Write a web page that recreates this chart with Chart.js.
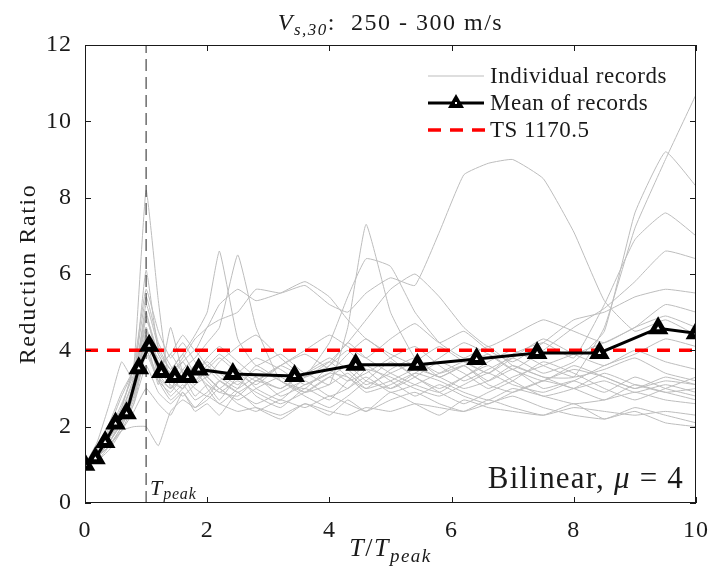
<!DOCTYPE html>
<html>
<head>
<meta charset="utf-8">
<script src="https://cdn.jsdelivr.net/npm/chart.js@4/dist/chart.umd.min.js"></script>
<style>body{margin:0;background:#fff}</style>
</head>
<body>
<canvas id="chart" width="713" height="577"></canvas>
<script>
// x positions (T/Tpeak) at which the individual records are sampled
const recordX = [0, 0.2, 0.4, 0.6, 0.8, 1.0, 1.2, 1.4, 1.6, 1.8, 2.0, 2.2, 2.5, 2.8, 3.2, 3.6,
                 4.0, 4.3, 4.6, 5.0, 5.4, 5.8, 6.2, 6.6, 7.0, 7.5, 8.0, 8.5, 9.0, 9.5, 10];

// reduction ratio of each record
const rec01 = [1.0,1.4,1.9,2.5,3.6,8.2,5.3,3.0,3.5,3.2,3.6,3.3,3.0,3.3,2.8,3.1,3.4,3.3,2.9,3.1,3.4,3.2,2.9,2.7,3.0,2.8,2.6,2.7,2.9,2.7,2.6];
const rec02 = [1.0,1.3,1.7,2.3,3.1,5.0,3.6,3.9,4.4,4.0,4.6,4.8,5.0,5.6,5.5,5.7,5.2,5.0,5.5,5.9,5.7,7.1,8.6,8.9,9.0,8.5,7.1,5.3,4.5,4.8,4.4];
const rec03 = [1.0,1.2,1.6,2.1,3.2,6.1,4.0,3.5,3.9,4.4,5.0,6.6,4.3,3.6,3.9,3.4,3.7,3.3,3.0,3.5,3.8,3.3,3.6,3.1,2.9,3.2,3.5,3.3,3.0,3.2,3.1];
const rec04 = [1.0,1.3,2.0,2.8,3.5,4.6,3.4,3.0,3.5,3.8,4.2,4.6,6.5,4.6,3.2,3.0,3.6,4.2,3.8,3.4,3.1,2.9,3.3,3.6,3.2,2.8,3.0,3.4,3.1,2.9,3.0];
const rec05 = [1.0,1.2,1.5,2.0,2.8,4.2,3.8,3.3,3.0,3.4,3.1,2.9,2.8,3.2,3.0,3.4,3.1,4.6,7.3,5.0,3.8,3.4,3.6,3.2,3.5,3.0,3.2,2.9,3.3,3.0,2.8];
const rec06 = [1.0,1.1,1.4,1.9,2.6,3.9,3.2,2.9,3.3,3.0,2.8,3.2,3.5,3.0,2.7,3.3,4.2,5.4,6.4,6.2,5.0,4.2,3.8,4.1,3.6,3.3,3.0,3.2,2.9,3.1,2.9];
const rec07 = [1.0,1.2,1.6,2.2,2.9,4.4,3.5,3.1,2.8,3.1,3.3,3.0,2.7,3.0,3.3,2.9,3.1,3.4,3.0,3.2,3.5,3.3,3.0,3.2,3.6,3.3,3.3,4.6,7.2,9.0,10.7];
const rec08 = [1.0,1.3,1.8,2.4,3.3,4.9,3.9,3.4,3.7,3.2,3.5,3.8,3.4,3.1,3.6,3.9,3.5,3.2,3.4,3.8,4.1,3.6,3.2,3.5,3.8,3.4,3.7,4.5,7.6,9.2,8.3];
const rec09 = [1.0,1.1,1.5,2.0,2.7,4.0,3.3,2.8,3.1,2.7,2.9,3.2,2.9,2.6,2.9,3.2,2.8,3.0,3.3,2.9,3.1,3.4,3.7,3.4,3.9,4.2,3.8,5.2,6.9,7.6,7.0];
const rec10 = [1.0,1.2,1.7,2.3,3.0,4.5,3.7,3.2,3.0,3.4,3.7,3.4,3.1,3.5,3.2,2.9,3.3,3.6,3.2,3.0,3.4,3.8,4.2,3.9,3.5,4.0,4.6,5.1,5.8,6.6,6.4];
const rec11 = [1.0,1.3,1.7,2.2,2.9,4.3,3.6,3.3,3.7,4.0,3.6,3.9,3.5,3.2,3.6,4.0,4.4,4.1,3.8,4.3,4.7,4.2,4.5,4.0,3.7,4.2,4.8,5.0,5.4,5.6,5.5];
const rec12 = [1.0,1.2,1.5,1.9,2.0,2.0,1.5,2.4,2.7,2.5,2.8,2.6,2.4,2.5,2.3,2.6,2.4,2.3,2.5,2.4,2.6,2.5,2.4,2.7,2.5,2.3,2.5,2.4,2.3,2.4,2.3];
const rec13 = [1.0,1.2,1.6,2.1,2.6,3.6,2.9,2.6,2.9,2.5,2.7,3.0,2.6,2.4,2.7,2.5,2.8,2.6,2.4,2.7,2.9,2.6,2.4,2.6,2.8,2.5,2.3,2.2,2.4,2.1,2.0];
const rec14 = [1.0,1.6,2.6,3.7,3.2,4.8,3.9,3.4,3.8,4.3,4.6,5.2,5.6,5.3,5.5,5.8,5.4,4.8,4.3,3.9,3.6,3.3,3.6,3.9,3.5,3.2,3.6,3.3,3.0,3.3,3.1];
const rec15 = [1.0,1.3,1.9,2.6,3.4,5.4,4.2,3.6,3.2,3.6,3.3,3.0,3.4,3.8,3.5,3.1,3.4,3.9,4.3,3.8,3.3,3.0,3.3,3.7,4.0,3.6,3.3,3.5,3.8,3.4,3.2];
const rec16 = [1.0,1.2,1.6,2.1,2.9,4.4,3.5,3.9,3.4,3.1,3.5,3.2,2.9,3.2,3.6,3.3,3.7,4.2,4.8,5.6,6.0,5.4,4.6,4.1,4.4,4.8,4.5,4.2,4.6,4.9,4.6];
const rec17 = [1.0,1.2,1.7,2.4,3.2,4.6,3.3,3.0,3.3,3.6,3.2,2.9,3.2,2.9,2.6,2.9,3.3,3.0,3.5,3.3,3.0,2.8,3.1,3.4,3.1,2.9,3.2,3.6,3.9,4.3,4.1];
const rec18 = [1.0,1.3,1.8,2.3,3.0,5.2,4.1,3.5,3.9,3.4,3.8,4.1,3.7,3.3,3.0,3.4,3.8,3.5,3.1,3.4,3.7,4.1,3.7,3.4,3.8,4.3,3.9,3.6,4.0,3.7,3.5];
const rec19 = [1.0,1.2,1.5,1.9,2.4,3.0,2.6,2.3,2.9,2.4,2.6,2.3,2.9,2.5,2.2,2.6,2.3,2.7,2.4,2.9,2.6,2.3,2.7,2.5,2.4,2.3,2.6,2.2,2.5,2.3,2.1];
const rec20 = [1.0,1.4,2.1,2.9,3.5,4.3,3.1,4.6,3.4,2.8,3.1,2.7,3.3,2.8,2.5,3.0,2.7,3.2,3.6,3.2,2.8,3.1,2.8,2.6,2.9,3.2,3.0,2.7,3.1,2.9,2.7];
const rec21 = [1.0,1.2,1.7,2.2,2.8,4.0,3.2,2.7,3.0,3.5,3.0,2.6,3.0,3.6,3.2,2.8,2.5,2.8,3.2,3.7,3.3,2.9,2.6,2.9,3.2,3.7,3.4,3.0,2.7,3.0,3.3];
const rec22 = [1.0,1.3,1.8,2.5,3.6,5.6,4.5,3.8,4.2,3.7,3.3,3.7,4.1,4.4,3.8,3.3,3.6,4.0,3.5,3.0,3.3,3.7,3.4,3.0,3.3,3.6,3.9,4.2,4.6,5.2,5.0];
const records = [rec01, rec02, rec03, rec04, rec05, rec06, rec07, rec08, rec09, rec10, rec11,
                 rec12, rec13, rec14, rec15, rec16, rec17, rec18, rec19, rec20, rec21, rec22];

// mean of records
const meanX = [0, 0.17, 0.33, 0.5, 0.68, 0.88, 1.05, 1.25, 1.47, 1.68, 1.86, 2.42, 3.43, 4.43, 5.44, 6.41, 7.4, 8.42, 9.38, 10];
const meanY = [1.0, 1.17, 1.6, 2.08, 2.35, 3.53, 4.12, 3.43, 3.3, 3.3, 3.5, 3.38, 3.33, 3.62, 3.62, 3.77, 3.93, 3.93, 4.58, 4.45];

const codeLevel = 4;      // TS 1170.5
const tPeak = 1;
const xRange = [0, 10];
const yRange = [0, 12];

const SERIF = '"Liberation Serif", "DejaVu Serif", serif';
const INK = '#1a1a1a';

const toPts = (xs, ys) => xs.map((x, i) => ({x: x, y: ys[i]}));

const datasets = [];
datasets.push({
    label: 'Mean of records',
    data: toPts(meanX, meanY),
    borderColor: '#000', borderWidth: 3,
    pointStyle: 'triangle', pointRadius: 7, pointBorderWidth: 5,
    pointBackgroundColor: '#fff', pointBorderColor: '#000',
    order: 0
});
datasets.push({
    label: 'TS 1170.5',
    data: toPts(xRange, [codeLevel, codeLevel]),
    borderColor: '#ff0000', borderWidth: 3.5, borderDash: [13, 9],
    pointRadius: 0, order: 1
});
datasets.push({
    label: 'Tpeak',
    data: toPts([tPeak, tPeak], yRange),
    borderColor: '#222', borderWidth: 1, borderDash: [12, 6],
    pointRadius: 0, order: 2
});
records.forEach((r, i) => {
    datasets.push({
        label: i === 0 ? 'Individual records' : '',
        data: toPts(recordX, r),
        borderColor: '#bdbdbd', borderWidth: 1, tension: 0.12,
        pointRadius: 0, order: 3
    });
});

// write text made of parts (italic / subscript)
function richText(ctx, parts, x, y, align, spacing) {
    ctx.letterSpacing = (spacing || 0) + 'px';
    let w = 0;
    parts.forEach(p => {
        ctx.font = (p.it ? 'italic ' : '') + p.size + 'px ' + SERIF;
        p.w = ctx.measureText(p.t).width;
        w += p.w;
    });
    let cx = align === 'center' ? x - w / 2 : (align === 'right' ? x - w : x);
    ctx.textAlign = 'left';
    ctx.textBaseline = 'alphabetic';
    parts.forEach(p => {
        ctx.font = (p.it ? 'italic ' : '') + p.size + 'px ' + SERIF;
        ctx.fillText(p.t, cx, y + (p.dy || 0));
        cx += p.w;
    });
    ctx.letterSpacing = '0px';
}

const decor = {
    id: 'decor',
    beforeDraw(chart) {
        chart.ctx.letterSpacing = '1px';
    },
    afterDraw(chart) {
        const {ctx, chartArea: a, scales} = chart;
        ctx.save();
        ctx.fillStyle = INK;
        ctx.strokeStyle = INK;
        ctx.lineWidth = 1;
        // box
        ctx.strokeRect(a.left + 0.5, a.top + 0.5, a.right - a.left - 1, a.bottom - a.top - 1);
        // inward ticks
        ctx.beginPath();
        scales.x.ticks.forEach(t => {
            const px = Math.round(scales.x.getPixelForValue(t.value)) + 0.5;
            ctx.moveTo(px, a.bottom); ctx.lineTo(px, a.bottom - 6);
            ctx.moveTo(px, a.top); ctx.lineTo(px, a.top + 6);
        });
        scales.y.ticks.forEach(t => {
            const py = Math.round(scales.y.getPixelForValue(t.value)) + 0.5;
            ctx.moveTo(a.left, py); ctx.lineTo(a.left + 6, py);
            ctx.moveTo(a.right, py); ctx.lineTo(a.right - 6, py);
        });
        ctx.stroke();

        // title
        richText(ctx, [
            {t: 'V', it: true, size: 24},
            {t: 's,30', it: true, size: 17, dy: 5},
            {t: ':  250 - 300 m/s', size: 24}
        ], (a.left + a.right) / 2, 30, 'center', 1.5);

        // x axis title
        richText(ctx, [
            {t: 'T', it: true, size: 26},
            {t: '/', size: 26},
            {t: 'T', it: true, size: 26},
            {t: 'peak', it: true, size: 19, dy: 6}
        ], (a.left + a.right) / 2, 556, 'center', 1.5);

        // y axis title
        ctx.save();
        ctx.translate(27, (a.top + a.bottom) / 2);
        ctx.rotate(-Math.PI / 2);
        richText(ctx, [{t: 'Reduction Ratio', size: 24}], 0, 8, 'center', 1.6);
        ctx.restore();

        // T_peak marker
        const xp = scales.x.getPixelForValue(tPeak);
        richText(ctx, [
            {t: 'T', it: true, size: 22},
            {t: 'peak', it: true, size: 16, dy: 4}
        ], xp + 4, 495, 'left', 0.8);

        // model label
        richText(ctx, [
            {t: 'Bilinear, ', size: 31},
            {t: 'μ', it: true, size: 31},
            {t: ' = 4', size: 31}
        ], a.right - 12, 488, 'right', 1.2);

        // legend
        const lx0 = 428, lx1 = 484, tx = 490;
        const rows = [76, 103, 130];
        ctx.lineWidth = 1;
        ctx.strokeStyle = '#bdbdbd';
        ctx.beginPath(); ctx.moveTo(lx0, rows[0]); ctx.lineTo(lx1, rows[0]); ctx.stroke();
        ctx.lineWidth = 3;
        ctx.strokeStyle = '#000';
        ctx.beginPath(); ctx.moveTo(lx0, rows[1]); ctx.lineTo(lx1, rows[1]); ctx.stroke();
        const m = (lx0 + lx1) / 2;
        ctx.fillStyle = '#000';
        ctx.beginPath();
        ctx.moveTo(m, rows[1] - 9); ctx.lineTo(m + 8, rows[1] + 5); ctx.lineTo(m - 8, rows[1] + 5); ctx.closePath();
        ctx.fill();
        ctx.fillStyle = '#fff';
        ctx.fillRect(m - 1, rows[1] - 1, 2, 2);
        ctx.lineWidth = 3.5;
        ctx.strokeStyle = '#ff0000';
        ctx.setLineDash([13, 9]);
        ctx.beginPath(); ctx.moveTo(lx0, rows[2]); ctx.lineTo(lx1 + 2, rows[2]); ctx.stroke();
        ctx.setLineDash([]);
        ctx.fillStyle = INK;
        ['Individual records', 'Mean of records', 'TS 1170.5'].forEach((s, i) => {
            richText(ctx, [{t: s, size: 23}], tx, rows[i] + 7, 'left', 0.5);
        });
        ctx.restore();
    }
};

new Chart(document.getElementById('chart'), {
    type: 'line',
    data: {datasets: datasets},
    options: {
        responsive: false,
        animation: false,
        parsing: false,
        layout: {padding: {left: 0, top: 45, right: 16, bottom: 0}},
        plugins: {legend: {display: false}, tooltip: {enabled: false}},
        scales: {
            x: {
                type: 'linear', min: xRange[0], max: xRange[1],
                grid: {display: false}, border: {display: false},
                ticks: {stepSize: 2, padding: 5, color: INK, font: {family: SERIF, size: 24}},
                afterFit: s => { s.height = 74; }
            },
            y: {
                type: 'linear', min: yRange[0], max: yRange[1],
                grid: {display: false}, border: {display: false},
                ticks: {stepSize: 2, padding: 5, color: INK, font: {family: SERIF, size: 24}},
                afterFit: s => { s.width = 85; }
            }
        }
    },
    plugins: [decor]
});
</script>
</body>
</html>
